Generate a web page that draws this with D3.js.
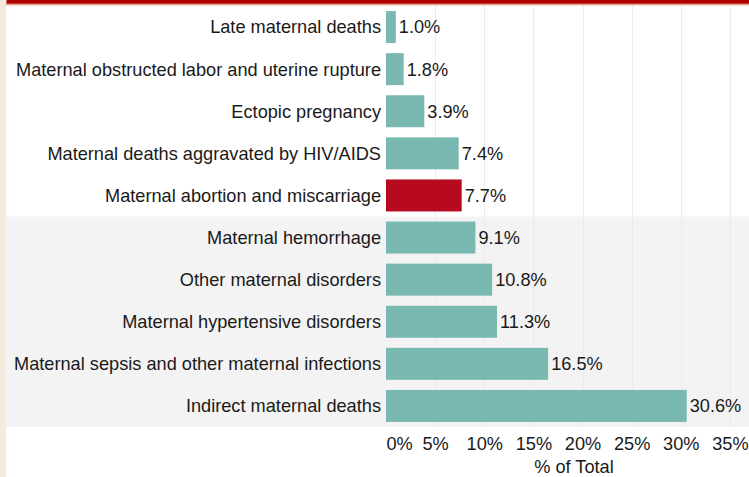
<!DOCTYPE html>
<html>
<head>
<meta charset="utf-8">
<script src="https://cdn.jsdelivr.net/npm/d3@7"></script>
<style>
html,body{margin:0;padding:0;background:#fff;overflow:hidden;}
svg{display:block;font-family:Arial,"Liberation Sans",sans-serif;}
</style>
</head>
<body>
<svg id="chart" width="749" height="477"></svg>
<script>
const categories = [
  "Late maternal deaths",
  "Maternal obstructed labor and uterine rupture",
  "Ectopic pregnancy",
  "Maternal deaths aggravated by HIV/AIDS",
  "Maternal abortion and miscarriage",
  "Maternal hemorrhage",
  "Other maternal disorders",
  "Maternal hypertensive disorders",
  "Maternal sepsis and other maternal infections",
  "Indirect maternal deaths"
];
const values = [1.0, 1.8, 3.9, 7.4, 7.7, 9.1, 10.8, 11.3, 16.5, 30.6];
const highlighted = ["Maternal abortion and miscarriage"];
const tickValues = [0, 5, 10, 15, 20, 25, 30, 35];
const axisTitle = "% of Total";

(function () {
const W = 749, H = 477;
const svg = d3.select("#chart");
const mLeft = 386, mTop = 6, mBottom = 427;
const fontSize = 18.2;

const x = d3.scaleLinear().domain([0, 35]).range([mLeft, mLeft + 35 * 9.827]);
const y = d3.scaleBand().domain(categories).range([mTop, mBottom]).paddingInner(0.24).paddingOuter(0.12);

// left beige strip
svg.append("rect").attr("x", 0).attr("y", 0).attr("width", 6).attr("height", H).attr("fill", "#f3ebdc");
// top red bar
svg.append("rect").attr("x", 6).attr("y", 4).attr("width", W - 6).attr("height", 2).attr("fill", "#f7dccb");
svg.append("rect").attr("x", 6.5).attr("y", -1).attr("width", W - 6).attr("height", 5).attr("fill", "#b00000").attr("stroke", "#d96a6a").attr("stroke-width", 1);

// gray band behind lower half
svg.append("rect").attr("x", 6).attr("y", mTop + (mBottom - mTop) / 2).attr("width", W - 6).attr("height", (mBottom - mTop) / 2).attr("fill", "#f3f3f3");

// gridlines
svg.append("g").selectAll("line").data(tickValues.filter(d => d > 0)).join("line")
  .attr("x1", d => Math.round(x(d)) + 0.5).attr("x2", d => Math.round(x(d)) + 0.5)
  .attr("y1", mTop).attr("y2", mBottom)
  .attr("stroke", "#ebebeb").attr("stroke-width", 1);

// bars
const data = categories.map((c, i) => ({c, v: values[i]}));
svg.append("g").selectAll("rect").data(data).join("rect")
  .attr("x", x(0))
  .attr("y", d => y(d.c))
  .attr("width", d => x(d.v) - x(0))
  .attr("height", y.bandwidth())
  .attr("fill", d => highlighted.includes(d.c) ? "#b70a1f" : "#7ab8b2");

// category labels
svg.append("g").selectAll("text").data(data).join("text")
  .attr("x", mLeft - 5)
  .attr("y", d => y(d.c) + y.bandwidth() / 2)
  .attr("dy", "0.35em")
  .attr("text-anchor", "end")
  .attr("font-size", fontSize)
  .attr("fill", "#1a1a1a")
  .text(d => d.c);

// value labels
svg.append("g").selectAll("text").data(data).join("text")
  .attr("x", d => x(d.v) + 3)
  .attr("y", d => y(d.c) + y.bandwidth() / 2)
  .attr("dy", "0.35em")
  .attr("font-size", fontSize)
  .attr("fill", "#1a1a1a")
  .text(d => d.v.toFixed(1) + "%");

// x axis
const axis = d3.axisBottom(x).tickValues(tickValues).tickSize(0).tickPadding(0).tickFormat(d => d + "%");
const ax = svg.append("g").attr("transform", `translate(0,${mBottom})`).call(axis);
ax.select(".domain").remove();
ax.selectAll("text")
  .attr("y", 23)
  .attr("dy", null)
  .attr("font-size", fontSize)
  .attr("font-family", "Arial, 'Liberation Sans', sans-serif")
  .attr("fill", "#1a1a1a")
  .attr("text-anchor", d => d === 0 ? "start" : "middle");

svg.append("text")
  .attr("x", 574).attr("y", 473)
  .attr("text-anchor", "middle")
  .attr("font-size", fontSize)
  .attr("fill", "#1a1a1a")
  .text(axisTitle);
})();
</script>
</body>
</html>
